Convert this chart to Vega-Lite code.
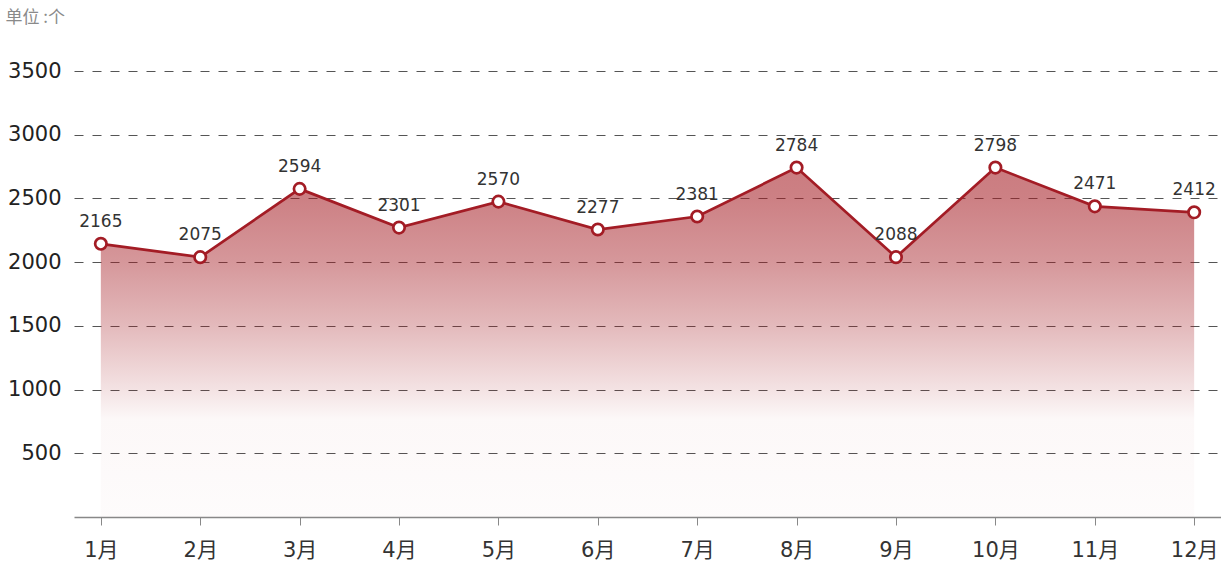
{
  "$schema": "https://vega.github.io/schema/vega-lite/v6.json",
  "autosize": "none",
  "padding": {"left": 74, "top": 71, "right": 0, "bottom": 45},
  "width": 1147,
  "height": 446,
  "background": "#ffffff",
  "config": {
    "view": {"stroke": null},
    "font": "DejaVu Sans, Noto Sans CJK SC"
  },
  "data": {
    "values": [
      {"month": "1月", "value": 2144, "label": 2165},
      {"month": "2月", "value": 2039, "label": 2075},
      {"month": "3月", "value": 2575, "label": 2594},
      {"month": "4月", "value": 2271, "label": 2301},
      {"month": "5月", "value": 2475, "label": 2570},
      {"month": "6月", "value": 2256, "label": 2277},
      {"month": "7月", "value": 2358, "label": 2381},
      {"month": "8月", "value": 2742, "label": 2784},
      {"month": "9月", "value": 2039, "label": 2088},
      {"month": "10月", "value": 2742, "label": 2798},
      {"month": "11月", "value": 2438, "label": 2471},
      {"month": "12月", "value": 2391, "label": 2412}
    ]
  },
  "encoding": {
    "x": {
      "field": "month",
      "type": "ordinal",
      "sort": null,
      "scale": {"type": "point", "padding": 0.27},
      "axis": {
        "title": null,
        "labelAngle": 0,
        "labelFont": "DejaVu Sans, Noto Sans CJK SC",
        "labelFontSize": 21,
        "labelColor": "#333333",
        "labelPadding": 14,
        "tickSize": 8,
        "tickColor": "#888888",
        "domainColor": "#888888",
        "domainWidth": 1.5,
        "grid": false
      }
    },
    "y": {
      "field": "value",
      "type": "quantitative",
      "scale": {"domain": [0, 3500], "nice": false},
      "axis": {
        "values": [500, 1000, 1500, 2000, 2500, 3000, 3500],
        "format": "d",
        "title": "单位 :个",
        "titleFont": "Noto Sans CJK SC",
        "titleAngle": 0,
        "titleAlign": "left",
        "titleBaseline": "middle",
        "titleX": -69,
        "titleY": -54,
        "titleFontSize": 17,
        "titleFontWeight": "normal",
        "titleColor": "#8a8a8a",
        "domain": false,
        "ticks": false,
        "labelFont": "DejaVu Sans",
        "labelFontSize": 21,
        "labelColor": "#222222",
        "labelPadding": 13,
        "grid": true,
        "gridDash": [9, 9],
        "gridColor": "#555555",
        "gridWidth": 1
      }
    }
  },
  "layer": [
    {
      "mark": {
        "type": "area",
        "color": {
          "gradient": "linear",
          "x1": 0, "y1": 0, "x2": 0, "y2": 1,
          "stops": [
            {"offset": 0, "color": "rgba(165,29,36,0.58)"},
            {"offset": 0.09, "color": "rgba(165,29,36,0.56)"},
            {"offset": 0.27, "color": "rgba(165,29,36,0.46)"},
            {"offset": 0.45, "color": "rgba(165,29,36,0.31)"},
            {"offset": 0.64, "color": "rgba(165,29,36,0.12)"},
            {"offset": 0.72, "color": "rgba(165,29,36,0.03)"},
            {"offset": 1, "color": "rgba(165,29,36,0.015)"}
          ]
        }
      }
    },
    {
      "mark": {"type": "line", "color": "#a31c25", "strokeWidth": 2.7}
    },
    {
      "mark": {
        "type": "point",
        "filled": true,
        "fill": "#ffffff",
        "stroke": "#a31c25",
        "strokeWidth": 2.7,
        "size": 130,
        "opacity": 1
      }
    },
    {
      "mark": {
        "type": "text",
        "dy": -22,
        "font": "DejaVu Sans",
        "fontSize": 17,
        "color": "#333333"
      },
      "encoding": {
        "text": {"field": "label", "type": "nominal"}
      }
    }
  ]
}
